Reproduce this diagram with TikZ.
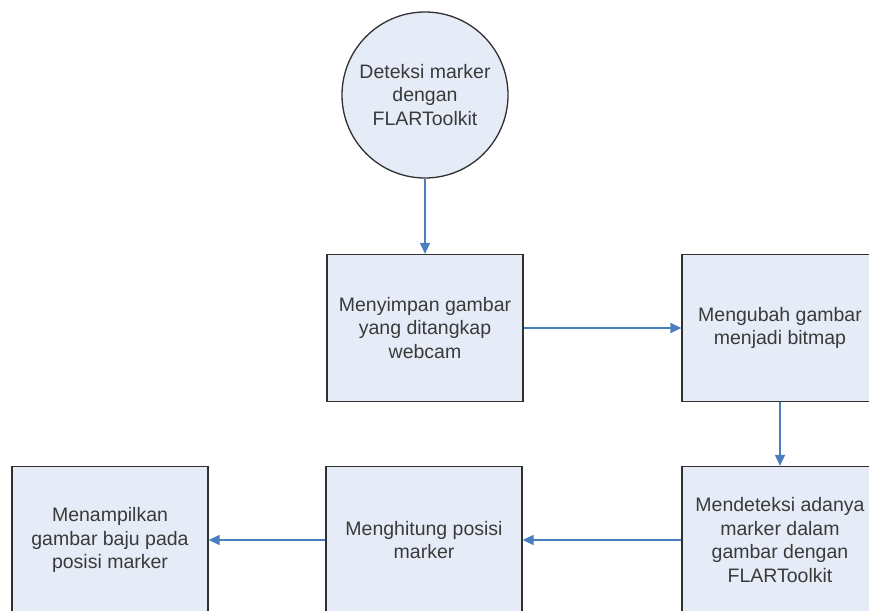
\documentclass[tikz,border=0pt]{standalone}
\usepackage{fontspec}
\setmainfont{Liberation Sans}
\usetikzlibrary{arrows.meta}
\definecolor{isian}{HTML}{E6ECF7}
\definecolor{garis}{HTML}{303030}
\definecolor{panah}{HTML}{4A7EC0}
\definecolor{teks}{HTML}{3A3A3A}
\begin{document}
\begin{tikzpicture}[x=1pt, y=-1pt,
    proses/.style={draw=garis, fill=isian, line width=1.3pt, minimum width=196pt,
      minimum height=147pt, inner sep=0pt, align=center, text=teks,
      font=\fontsize{19.5}{23.5}\selectfont},
    mulai/.style={proses, circle, minimum width=166pt, minimum height=166pt},
    alur/.style={draw=panah, line width=1.3pt, -{Triangle[length=11pt,width=10pt]}}]
    \useasboundingbox (0,0) rectangle (869,610);
    \node[mulai]  (deteksi) at (425,95)  {Deteksi marker\\dengan\\FLARToolkit};
    \node[proses] (simpan)  at (425,328) {Menyimpan gambar\\yang ditangkap\\webcam};
    \node[proses] (ubah)    at (780,328) {Mengubah gambar\\menjadi bitmap};
    \node[proses] (cari)    at (780,540) {Mendeteksi adanya\\marker dalam\\gambar dengan\\FLARToolkit};
    \node[proses] (hitung)  at (424,540) {Menghitung posisi\\marker};
    \node[proses] (tampil)  at (110,540) {Menampilkan\\gambar baju pada\\posisi marker};
    \draw[alur] (deteksi) -- (simpan);
    \draw[alur] (simpan) -- (ubah);
    \draw[alur] (ubah) -- (cari);
    \draw[alur] (cari) -- (hitung);
    \draw[alur] (hitung) -- (tampil);
\end{tikzpicture}
\end{document}
